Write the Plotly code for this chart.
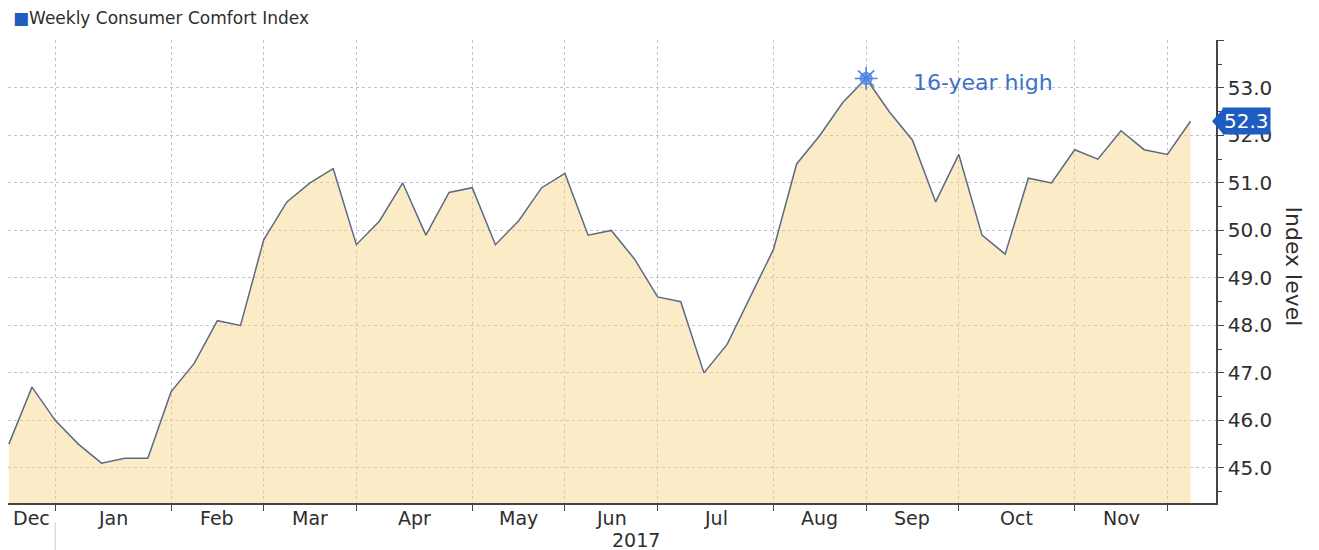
import pandas as pd
import plotly.graph_objects as go

# ---- data -------------------------------------------------------------
start_week = "2016-12-18"          # first weekly observation (week ending Sunday)
values = [45.5, 46.7, 46.0, 45.5, 45.1, 45.2, 45.2, 46.6, 47.2, 48.1,
          48.0, 49.8, 50.6, 51.0, 51.3, 49.7, 50.2, 51.0, 49.9, 50.8,
          50.9, 49.7, 50.2, 50.9, 51.2, 49.9, 50.0, 49.4, 48.6, 48.5,
          47.0, 47.6, 48.6, 49.6, 51.4, 52.0, 52.7, 53.2, 52.5, 51.9,
          50.6, 51.6, 49.9, 49.5, 51.1, 51.0, 51.7, 51.5, 52.1, 51.7,
          51.6, 52.3]
series_name = "Weekly Consumer Comfort Index"
ytick_vals = [45, 46, 47, 48, 49, 50, 51, 52, 53, 54]
ytick_text = ["45.0", "46.0", "47.0", "48.0", "49.0", "50.0", "51.0", "52.0", "53.0", ""]
month_labels = ["Dec", "Jan", "Feb", "Mar", "Apr", "May", "Jun", "Jul", "Aug",
                "Sep", "Oct", "Nov"]
year_label = "2017"
peak_label = "16-year high"
y_title = "Index level"

dates = pd.date_range(start_week, periods=len(values), freq="7D")
s = pd.Series(values, index=dates)

# ---- styling ----------------------------------------------------------
FONT = "DejaVu Sans, Verdana, sans-serif"
TXT = "#2e2e2e"
GRID = "#c4c4c4"
LINE = "#5d6b82"
BLUE = "#1f5cbf"
PEAK = "#4d83e0"

x_end = dates[-1] + pd.Timedelta(days=7.7)
x_start = dates[0] - pd.Timedelta(hours=6)

# first observation of each month -> gridlines
month_first = s.groupby([s.index.year, s.index.month]).apply(lambda g: g.index[0]).tolist()
month_first = [pd.Timestamp(d) for d in month_first]
grid_dates = month_first[1:]  # Jan .. Dec
bounds = [x_start] + grid_dates
label_pos = [bounds[i] + (bounds[i + 1] - bounds[i]) / 2 for i in range(len(bounds) - 1)]

fig = go.Figure()
fig.add_trace(go.Scatter(
    x=dates, y=values, mode="lines", name=series_name,
    line=dict(color=LINE, width=1.5),
    fill="tozeroy", fillcolor="rgba(245,208,118,0.42)",
    hoverinfo="x+y", showlegend=False))

peak_idx = int(s.values.argmax())
fig.add_trace(go.Scatter(
    x=[dates[peak_idx]], y=[values[peak_idx]], mode="markers",
    marker=dict(symbol="circle", size=12, color="#7aa4ee",
                line=dict(color=PEAK, width=1)),
    hoverinfo="skip", showlegend=False))
fig.add_trace(go.Scatter(
    x=[dates[peak_idx]], y=[values[peak_idx]], mode="markers",
    marker=dict(symbol="asterisk-open", size=19, color=PEAK,
                line=dict(color=PEAK, width=1.6)),
    hoverinfo="skip", showlegend=False))

annotations = []
for lab, pos in zip(month_labels, label_pos):
    annotations.append(dict(x=pos, xref="x", y=0, yref="paper", text=lab,
                            showarrow=False, yanchor="middle", yshift=-15,
                            font=dict(family=FONT, size=19, color=TXT)))
year_pos = grid_dates[0] + (x_end - grid_dates[0]) / 2
annotations.append(dict(x=year_pos, xref="x", y=0, yref="paper", text=year_label,
                        showarrow=False, yanchor="middle", yshift=-37,
                        font=dict(family=FONT, size=19, color=TXT)))
annotations.append(dict(x=dates[peak_idx], xref="x", y=values[peak_idx], yref="y",
                        text=peak_label, showarrow=False, xanchor="left",
                        xshift=45, yshift=-4,
                        font=dict(family=FONT, size=22, color="#3d72c9")))
annotations.append(dict(x=1, xref="paper", y=values[-1], yref="y",
                        text=f"{values[-1]:.1f}", showarrow=False, xanchor="left",
                        xshift=6, bgcolor=BLUE, borderpad=1,
                        font=dict(family=FONT, size=20, color="white")))
annotations.append(dict(x=0, xref="paper", y=1, yref="paper",
                        text=f"<span style='color:{BLUE}'>■</span>{series_name}",
                        showarrow=False, xanchor="left", yanchor="middle",
                        xshift=3, yshift=22,
                        font=dict(family=FONT, size=17, color=TXT)))
annotations.append(dict(x=1, xref="paper", y=0.5, yref="paper", text=y_title,
                        showarrow=False, textangle=90, xanchor="center",
                        xshift=77, yshift=5,
                        font=dict(family=FONT, size=22, color=TXT)))

shapes = [
    dict(type="path", xref="paper", yref="y", xsizemode="pixel", ysizemode="pixel",
         xanchor=1, yanchor=values[-1], path="M -4,0 L 7,12.5 L 7,-12.5 Z",
         fillcolor=BLUE, line=dict(width=0)),
    dict(type="line", xref="x", yref="paper", x0=grid_dates[0], x1=grid_dates[0],
         y0=-0.042, y1=-0.11, line=dict(color="#c9c9c9", width=1)),
]

# page body has an 8px margin: figure is sized/margined so that the plot
# area lands where it does in the reference screenshot
fig.update_layout(
    width=1311, height=542,
    margin=dict(l=0, r=103, t=32, b=47),
    paper_bgcolor="white", plot_bgcolor="white",
    showlegend=False,
    annotations=annotations, shapes=shapes,
    xaxis=dict(type="date", range=[x_start, x_end],
               tickvals=grid_dates, ticktext=[""] * len(grid_dates),
               showgrid=True, gridcolor=GRID, griddash="dot", gridwidth=1,
               ticks="outside", ticklen=6, tickcolor="#444",
               showline=True, linecolor="#444", linewidth=1.5,
               zeroline=False),
    yaxis=dict(side="right", range=[44.26, 54.01],
               tickvals=ytick_vals, ticktext=ytick_text,
               showgrid=True, gridcolor=GRID, griddash="dot", gridwidth=1,
               ticks="outside", ticklen=6, tickcolor="#444",
               showline=True, linecolor="#444", linewidth=1.5,
               zeroline=False,
               tickfont=dict(family=FONT, size=20, color=TXT),
               minor=dict(tickvals=[v + 0.5 for v in range(44, 54)],
                          ticks="outside", ticklen=4, tickcolor="#444",
                          showgrid=False)),
)

fig.write_html("out.html")
